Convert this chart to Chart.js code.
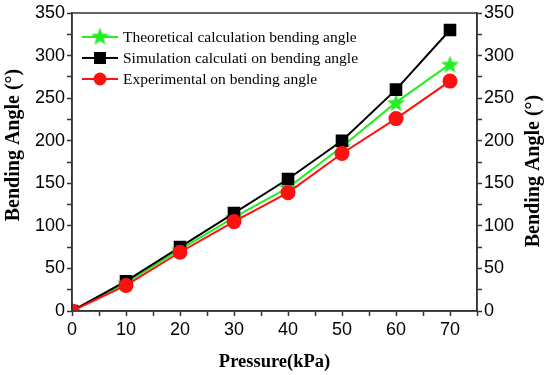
<!DOCTYPE html>
<html>
<head>
<meta charset="utf-8">
<script src="https://cdn.jsdelivr.net/npm/chart.js@4/dist/chart.umd.min.js"></script>
<style>
  html, body { margin: 0; padding: 0; background: #fff; }
  #wrap { width: 550px; height: 375px; }
</style>
</head>
<body>
<div id="wrap"><canvas id="bend"></canvas></div>
<script>
const pressure = [0, 10, 20, 30, 40, 50, 60, 70];
const theoretical = [0, 33, 72, 110, 145, 193, 245, 290];
const simulation = [0, 35, 75, 115, 155, 200, 260, 330];
const experimental = [0, 30, 69, 105, 139, 185, 226, 270];

const seriesNames = [
  "Theoretical calculation bending angle",
  "Simulation calculati on bending angle",
  "Experimental on bending angle"
];
const yTitle = "Bending Angle (°)";

const GREEN = "#22ee22";
const BLACK = "#000000";
const RED = "#ff1010";

// filled five point star, chart.js "star" is only stroked
function makeStar(size, color) {
  const c = document.createElement("canvas");
  c.width = size;
  c.height = size;
  const g = c.getContext("2d");
  const cx = size / 2, cy = size / 2;
  const R = size / 2, r = R * 0.42;
  g.beginPath();
  for (let i = 0; i < 10; i++) {
    const rad = i % 2 === 0 ? R : r;
    const a = -Math.PI / 2 + i * Math.PI / 5;
    g.lineTo(cx + rad * Math.cos(a), cy + rad * Math.sin(a) + 1);
  }
  g.closePath();
  g.fillStyle = color;
  g.fill();
  return c;
}
const star = makeStar(19, GREEN);

function toPoints(ys) {
  return pressure.map((x, i) => ({ x: x, y: ys[i] }));
}

function vText(ctx, text, x, y) {
  ctx.save();
  ctx.translate(x, y);
  ctx.rotate(-Math.PI / 2);
  ctx.fillText(text, 0, 0);
  ctx.restore();
}

const framePlugin = {
  id: "frame",
  afterDraw(chart) {
    const { ctx, chartArea: a } = chart;
    ctx.save();
    ctx.strokeStyle = "#333";
    ctx.lineWidth = 1.5;
    ctx.strokeRect(a.left, a.top, a.right - a.left, a.bottom - a.top);

    // legend, line + marker like the original
    const styles = [
      { color: GREEN, marker: "star" },
      { color: BLACK, marker: "rect" },
      { color: RED, marker: "circle" }
    ];
    ctx.font = "15.5px 'Liberation Serif', 'Times New Roman', serif";
    ctx.textBaseline = "middle";
    styles.forEach((s, i) => {
      const y = 37 + i * 21;
      ctx.strokeStyle = s.color;
      ctx.lineWidth = 2;
      ctx.beginPath();
      ctx.moveTo(82, y);
      ctx.lineTo(118, y);
      ctx.stroke();
      ctx.fillStyle = s.color;
      if (s.marker === "star") {
        ctx.drawImage(star, 100 - 9.5, y - 10.5);
      } else if (s.marker === "rect") {
        ctx.fillRect(94, y - 6, 12, 12);
      } else {
        ctx.beginPath();
        ctx.arc(100, y, 6.5, 0, Math.PI * 2);
        ctx.fill();
      }
      ctx.fillStyle = "#000";
      ctx.fillText(seriesNames[i], 123, y + 1);
    });

    // both y titles read bottom to top, placed like the source
    ctx.font = "bold 20px 'Liberation Serif', 'Times New Roman', serif";
    ctx.textAlign = "center";
    ctx.fillStyle = "#000";
    vText(ctx, yTitle, 14, 145);
    vText(ctx, yTitle, 534, 171);
    ctx.restore();
  }
};

const tickFont = { family: "'Liberation Sans', Arial, sans-serif", size: 18 };
const titleFont = { family: "'Liberation Serif', 'Times New Roman', serif", size: 18.5, weight: "bold" };

const ctx = document.getElementById("bend").getContext("2d");
const chart = new Chart(ctx, {
  type: "line",
  data: {
    datasets: [
      {
        label: seriesNames[0],
        data: toPoints(theoretical),
        borderColor: GREEN,
        backgroundColor: GREEN,
        borderWidth: 2,
        pointStyle: star,
        order: 3
      },
      {
        label: seriesNames[1],
        data: toPoints(simulation),
        borderColor: BLACK,
        backgroundColor: BLACK,
        borderWidth: 2,
        pointStyle: "rect",
        pointRadius: 7.5,
        order: 2
      },
      {
        label: seriesNames[2],
        data: toPoints(experimental),
        borderColor: RED,
        backgroundColor: RED,
        borderWidth: 2,
        pointStyle: "circle",
        pointRadius: 6.5,
        order: 1
      }
    ]
  },
  options: {
    responsive: true,
    maintainAspectRatio: false,
    animation: false,
    layout: { padding: { top: 13, left: 0, right: 0, bottom: 0 } },
    elements: { line: { tension: 0 }, point: { borderWidth: 0 } },
    plugins: {
      legend: { display: false },
      tooltip: { enabled: false }
    },
    scales: {
      x: {
        type: "linear",
        min: 0,
        max: 75,
        afterFit(s) { s.height = 64; },
        ticks: {
          stepSize: 5,
          color: "#000",
          font: tickFont,
          padding: 3.5,
          maxRotation: 0,
          autoSkip: false,
          callback: v => (v % 10 === 0 ? v : "")
        },
        grid: { drawOnChartArea: false, tickLength: 5, color: "#333", tickWidth: 1.5 },
        border: { color: "#333", width: 1.5 },
        title: {
          display: true,
          text: "Pressure(kPa)",
          color: "#000",
          font: titleFont,
          padding: { top: 0, bottom: 2 }
        }
      },
      y: {
        min: 0,
        max: 350,
        afterFit(s) { s.width = 72; },
        ticks: {
          stepSize: 25,
          color: "#000",
          font: tickFont,
          padding: 2,
          autoSkip: false,
          callback: v => (v % 50 === 0 ? v : "")
        },
        grid: { drawOnChartArea: false, tickLength: 5, color: "#333", tickWidth: 1.5 },
        border: { color: "#333", width: 1.5 }
      },
      y2: {
        position: "right",
        min: 0,
        max: 350,
        afterFit(s) { s.width = 73; },
        ticks: {
          stepSize: 25,
          color: "#000",
          font: tickFont,
          padding: 2,
          autoSkip: false,
          callback: v => (v % 50 === 0 ? v : "")
        },
        grid: { drawOnChartArea: false, tickLength: 5, color: "#333", tickWidth: 1.5 },
        border: { color: "#333", width: 1.5 }
      }
    }
  },
  plugins: [framePlugin]
});
</script>
</body>
</html>
